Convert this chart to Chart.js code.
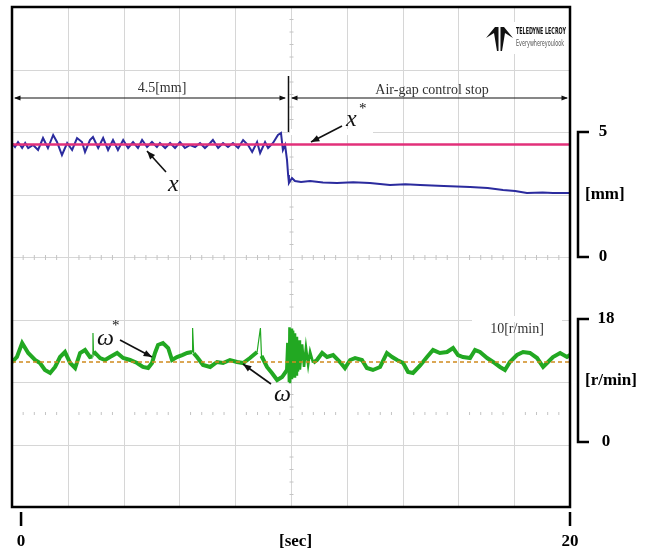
<!DOCTYPE html>
<html lang="en">
<head>
<meta charset="UTF-8">
<title>Air-gap control stop</title>
<script src="https://cdn.jsdelivr.net/npm/chart.js"></script>
<style>
    body {
        margin: 0;
        background: #fff;
    }
    #scope {
        display: block;
    }
</style>
</head>
<body>
<canvas id="scope" width="646" height="550"></canvas>

<script>
// time axis [sec]
const secTicks = [0, 10, 20];
const secLabels = ['0', '[sec]', '20'];
const mmTicks = [0, 5];
const rpmTicks = [0, 18];

// air gap x [mm]
const gapTime = [-0.33, -0.22, -0.11, 0.04, 0.15, 0.26, 0.44, 0.62, 0.80, 0.98, 1.17, 1.31, 1.49, 1.68, 1.86,
    2.04, 2.22, 2.33, 2.51, 2.62, 2.81, 2.99, 3.17, 3.35, 3.53, 3.72, 3.90, 4.08, 4.26, 4.41, 4.59, 4.77, 4.95,
    5.06, 5.25, 5.43, 5.61, 5.79, 5.97, 6.16, 6.34, 6.52, 6.70, 6.89, 6.99, 7.18, 7.36, 7.54, 7.72, 7.91, 8.09,
    8.27, 8.42, 8.60, 8.71, 8.89, 9.00, 9.18, 9.36, 9.47, 9.54, 9.62, 9.69, 9.73, 9.76, 9.87, 9.98, 10.2, 10.53,
    11.0, 11.51, 12.1, 12.71, 13.44, 14.0, 14.54, 15.4, 16.36, 17.0, 17.56, 18.0, 18.43, 19.0, 19.38, 20.0];
const gapValue = [4.56, 4.40, 4.60, 4.36, 4.56, 4.36, 4.48, 4.28, 4.76, 4.36, 4.88, 4.60, 4.08, 4.56, 4.28,
    4.76, 4.60, 4.20, 4.68, 4.80, 4.36, 4.76, 4.28, 4.68, 4.28, 4.68, 4.36, 4.60, 4.36, 4.68, 4.40, 4.60, 4.40,
    4.56, 4.36, 4.56, 4.36, 4.60, 4.36, 4.48, 4.40, 4.56, 4.36, 4.56, 4.68, 4.36, 4.56, 4.40, 4.56, 4.36, 4.68,
    4.48, 4.20, 4.60, 4.16, 4.60, 4.36, 4.56, 4.88, 4.96, 4.28, 4.48, 3.88, 3.28, 2.96, 3.16, 3.04, 3.00, 3.04,
    2.98, 2.96, 2.99, 2.96, 2.88, 2.91, 2.88, 2.84, 2.80, 2.76, 2.68, 2.64, 2.56, 2.58, 2.56, 2.56];

// air gap reference x* [mm]
const gapRefTime = [-0.33, 20];
const gapRefValue = [4.5, 4.5];

// speed omega [r/min]
const speedTime = [-0.33, -0.15, 0.04, 0.15, 0.26, 0.51, 0.69, 0.87, 1.06, 1.24, 1.42, 1.60, 1.79, 1.97, 2.15,
    2.33, 2.51, 2.60, 2.62, 2.64, 2.70, 2.88, 3.06, 3.24, 3.50, 3.72, 3.97, 4.23, 4.44, 4.63, 4.77, 4.88, 4.99,
    5.17, 5.36, 5.50, 5.68, 5.87, 6.05, 6.23, 6.25, 6.29, 6.41, 6.63, 6.89, 7.14, 7.36, 7.61, 7.87, 8.09, 8.34,
    8.60, 8.72, 8.76, 8.78, 8.96, 9.14, 9.33, 9.51, 9.69,
    9.73, 9.76, 9.78, 9.80, 9.84, 9.87, 9.91, 9.95, 9.98, 10.02, 10.05, 10.09, 10.13, 10.16, 10.24, 10.31, 10.38,
    10.46, 10.53, 10.64, 10.78, 10.97, 11.15, 11.37, 11.62, 11.80, 11.99, 12.17, 12.42, 12.60, 12.82, 13.08,
    13.33, 13.52, 13.70, 13.92, 14.10, 14.28, 14.54, 14.79, 15.01, 15.26, 15.52, 15.74, 15.92, 16.10, 16.36,
    16.54, 16.72, 16.98, 17.20, 17.45, 17.63, 17.81, 18.07, 18.29, 18.54, 18.80, 19.02, 19.20, 19.38, 19.64,
    19.89, 20.0];
const speedValue = [11.71, 12.44, 14.49, 13.76, 13.03, 12.00, 11.56, 10.54, 10.10, 10.98, 12.44, 13.17, 11.56,
    10.83, 13.03, 13.46, 12.44, 12.5, 15.95, 12.8, 13.03, 12.29, 12.00, 12.44, 13.03, 12.29, 12.00, 11.56, 10.98,
    10.83, 11.56, 13.03, 14.20, 14.49, 13.76, 12.00, 12.44, 12.73, 13.03, 13.17, 16.68, 13.0, 12.44, 11.27, 10.98,
    11.71, 11.56, 12.00, 11.71, 11.56, 12.29, 13.17, 16.68, 12.6, 12.44, 10.98, 10.10, 9.07, 9.51, 10.54,
    14.5, 8.8, 16.8, 8.6, 16.6, 9.2, 16.3, 9.6, 15.9, 9.9, 15.4, 10.3, 14.9, 10.6, 14.3, 11.0, 13.8,
    11.3, 13.2, 11.6, 12.00, 13.03, 12.44, 12.73, 11.71, 10.83, 12.00, 12.29, 12.00, 10.83, 10.54, 10.98,
    13.03, 12.44, 12.00, 11.56, 10.24, 10.10, 11.2, 12.44, 13.46, 13.03, 13.17, 13.76, 12.73, 12.44, 12.29,
    13.46, 13.17, 12.29, 11.71, 10.98, 10.54, 11.71, 12.73, 13.17, 13.03, 12.29, 10.98, 11.71, 12.44, 13.03,
    12.44, 12.73];

// speed reference omega* [r/min]
const speedRefTime = [-0.33, 20];
const speedRefValue = [11.7, 11.7];

function pts(t, v) {
    return t.map((x, i) => ({x: x, y: v[i]}));
}

const serif = 'Liberation Serif, Times New Roman, serif';

function head(ctx, x, y, ang, size) {
    ctx.beginPath();
    ctx.moveTo(x, y);
    ctx.lineTo(x - size * Math.cos(ang - 0.38), y - size * Math.sin(ang - 0.38));
    ctx.lineTo(x - size * Math.cos(ang + 0.38), y - size * Math.sin(ang + 0.38));
    ctx.closePath();
    ctx.fill();
}

function arrow(ctx, x1, y1, x2, y2, size) {
    ctx.beginPath();
    ctx.moveTo(x1, y1);
    ctx.lineTo(x2, y2);
    ctx.stroke();
    head(ctx, x2, y2, Math.atan2(y2 - y1, x2 - x1), size);
}

// thin lines for the narrow spikes and the burst after the stop
function speedWidth(c) {
    const a = c.p0.parsed, b = c.p1.parsed;
    if (a.x > 9.7 && b.x < 10.7) return 2.6;
    if (a.x < 9.7 && (a.y > 15.5 || b.y > 15.5)) return 1.2;
    return 4;
}

// oscilloscope screen: white face, 10 x 8 grid, centre ticks
const screen = {
    id: 'screen',
    beforeDatasetsDraw(chart) {
        const {ctx, chartArea: a} = chart;
        const dx = a.width / 10, dy = a.height / 8;
        ctx.save();
        ctx.fillStyle = '#fff';
        ctx.fillRect(a.left, a.top, a.width, a.height);
        ctx.strokeStyle = '#d6d6d6';
        ctx.lineWidth = 1;
        ctx.beginPath();
        for (let i = 1; i < 10; i++) {
            const x = Math.round(a.left + i * dx) + 0.5;
            ctx.moveTo(x, a.top);
            ctx.lineTo(x, a.bottom);
        }
        for (let j = 1; j < 8; j++) {
            const y = Math.round(a.top + j * dy) + 0.5;
            ctx.moveTo(a.left, y);
            ctx.lineTo(a.right, y);
        }
        ctx.stroke();

        const cx = Math.round(a.left + 5 * dx) + 0.5, cy = Math.round(a.top + 4 * dy) + 0.5;
        const ry = Math.round(a.top + 6.5 * dy) + 0.5;
        ctx.strokeStyle = '#c4c4c4';
        ctx.beginPath();
        for (let k = 1; k < 40; k++) {
            if (k % 5 === 0) continue;
            const y = a.top + k * dy / 5;
            ctx.moveTo(cx - 2, y);
            ctx.lineTo(cx + 2, y);
        }
        for (let k = 1; k < 50; k++) {
            if (k % 5 === 0) continue;
            const x = a.left + k * dx / 5;
            ctx.moveTo(x, cy - 2.5);
            ctx.lineTo(x, cy + 2.5);
            ctx.moveTo(x, ry - 1.5);
            ctx.lineTo(x, ry + 1.5);
        }
        ctx.stroke();

        // blank patches behind labels
        ctx.fillStyle = '#fff';
        ctx.fillRect(290, 129, 83, 6);
        ctx.fillRect(472, 316, 90, 6);
        ctx.fillRect(484, 22, 84, 32);
        ctx.restore();
    },
    afterDraw(chart) {
        const {ctx, chartArea: a, scales} = chart;
        ctx.save();

        // frame
        ctx.strokeStyle = '#000';
        ctx.lineWidth = 2.5;
        ctx.strokeRect(a.left, a.top, a.width, a.height);

        // x tick marks
        ctx.lineWidth = 2.5;
        ctx.beginPath();
        [secTicks[0], secTicks[2]].forEach(v => {
            const x = scales.x.getPixelForValue(v);
            ctx.moveTo(x, a.bottom + 5);
            ctx.lineTo(x, a.bottom + 19);
        });
        ctx.stroke();

        // right brackets
        const bx = a.right + 8;
        ctx.lineWidth = 2.5;
        ctx.font = 'bold 17px ' + serif;
        ctx.fillStyle = '#000';
        ctx.textBaseline = 'middle';
        [[scales.yMm, mmTicks, '[mm]'], [scales.yRpm, rpmTicks, '[r/min]']].forEach(([s, t, unit]) => {
            const y0 = s.getPixelForValue(t[0]), y1 = s.getPixelForValue(t[1]);
            ctx.beginPath();
            ctx.moveTo(bx + 11, y1);
            ctx.lineTo(bx, y1);
            ctx.lineTo(bx, y0);
            ctx.lineTo(bx + 11, y0);
            ctx.stroke();
            ctx.textAlign = 'center';
            ctx.fillText(String(t[1]), bx + (t[1] > 9 ? 28 : 25), y1);
            ctx.fillText(String(t[0]), bx + (t[1] > 9 ? 28 : 25), y0);
            ctx.textAlign = 'left';
            ctx.fillText(unit, bx + 7, (y0 + y1) / 2);
        });

        // dimension lines
        ctx.strokeStyle = '#111';
        ctx.fillStyle = '#111';
        ctx.lineWidth = 1.2;
        const dimY = 98;
        ctx.beginPath();
        ctx.moveTo(15, dimY); ctx.lineTo(285, dimY);
        ctx.moveTo(292, dimY); ctx.lineTo(567, dimY);
        ctx.stroke();
        head(ctx, 14, dimY, Math.PI, 7);
        head(ctx, 286, dimY, 0, 7);
        head(ctx, 291, dimY, Math.PI, 7);
        head(ctx, 568, dimY, 0, 7);
        ctx.lineWidth = 1.5;
        ctx.beginPath();
        ctx.moveTo(288.5, 76); ctx.lineTo(288.5, 132);
        ctx.stroke();

        ctx.font = '14px ' + serif;
        ctx.fillStyle = '#333';
        ctx.textAlign = 'center';
        ctx.textBaseline = 'alphabetic';
        ctx.fillText('4.5[mm]', 162, 92);
        ctx.fillText('Air-gap control stop', 432, 94);
        ctx.fillText('10[r/min]', 517, 333);

        // trace labels
        ctx.fillStyle = '#111';
        ctx.strokeStyle = '#111';
        ctx.lineWidth = 1.6;
        ctx.font = 'italic 24px ' + serif;
        ctx.textAlign = 'left';
        ctx.fillText('x', 346, 126);
        ctx.fillText('x', 168, 191);
        ctx.fillText('\u03c9', 97, 345);
        ctx.fillText('\u03c9', 274, 401);
        ctx.font = '15px ' + serif;
        ctx.fillText('*', 359, 113);
        ctx.fillText('*', 112, 330);
        arrow(ctx, 342, 126, 311, 142, 9);
        arrow(ctx, 166, 172, 147, 151, 9);
        arrow(ctx, 120, 340, 152, 357, 9);
        arrow(ctx, 271, 384, 243, 364, 9);

        // scope logo
        ctx.fillStyle = '#111';
        ctx.beginPath();
        ctx.moveTo(486, 38); ctx.lineTo(495, 27); ctx.lineTo(498.5, 27); ctx.lineTo(498.5, 51);
        ctx.lineTo(497, 51); ctx.lineTo(494, 33); ctx.closePath();
        ctx.moveTo(513, 38); ctx.lineTo(504, 27); ctx.lineTo(500.5, 27); ctx.lineTo(500.5, 51);
        ctx.lineTo(502, 51); ctx.lineTo(505, 33); ctx.closePath();
        ctx.fill();
        ctx.font = 'bold 9px Liberation Sans Narrow, DejaVu Sans Condensed, sans-serif';
        ctx.fillText('TELEDYNE LECROY', 516, 34, 50);
        ctx.fillStyle = '#555';
        ctx.font = '8px Liberation Sans Narrow, DejaVu Sans Condensed, sans-serif';
        ctx.fillText('Everywhereyoulook', 516, 46, 48);
        ctx.restore();
    }
};

new Chart(document.getElementById('scope'), {
    type: 'line',
    data: {
        datasets: [
            {data: pts(gapRefTime, gapRefValue), yAxisID: 'yMm', borderColor: '#e2307a', borderWidth: 2.5, order: 0},
            {data: pts(gapTime, gapValue), yAxisID: 'yMm', borderColor: '#2b2b9e', borderWidth: 2, order: 1},
            {data: pts(speedRefTime, speedRefValue), yAxisID: 'yRpm', borderColor: '#d08a1e', borderWidth: 1.5,
                borderDash: [4, 3], order: 0},
            {data: pts(speedTime, speedValue), yAxisID: 'yRpm', borderColor: '#22a822', borderWidth: 4, order: 1,
                segment: {borderWidth: speedWidth}}
        ]
    },
    options: {
        responsive: false,
        animation: false,
        devicePixelRatio: 1,
        layout: {padding: {left: 12, right: 76, top: 7, bottom: 0}},
        elements: {point: {radius: 0}, line: {tension: 0}},
        plugins: {legend: {display: false}, tooltip: {enabled: false}},
        scales: {
            x: {
                type: 'linear',
                min: -0.33,
                max: 20,
                afterBuildTicks: s => { s.ticks = secTicks.map(v => ({value: v})); },
                afterFit: s => {
                    s.height = 43;
                    s.paddingLeft = 0;
                    s.paddingRight = 0;
                },
                ticks: {
                    callback: (v, i) => secLabels[i],
                    font: {family: serif, size: 17, weight: 'bold'},
                    color: '#000',
                    padding: 24,
                    maxRotation: 0,
                    autoSkip: false
                },
                grid: {display: false, drawTicks: false},
                border: {display: false}
            },
            yMm: {type: 'linear', position: 'right', min: -10, max: 10, display: false},
            yRpm: {type: 'linear', position: 'right', min: -9.51, max: 63.66, display: false}
        }
    },
    plugins: [screen]
});
</script>
</body>
</html>
